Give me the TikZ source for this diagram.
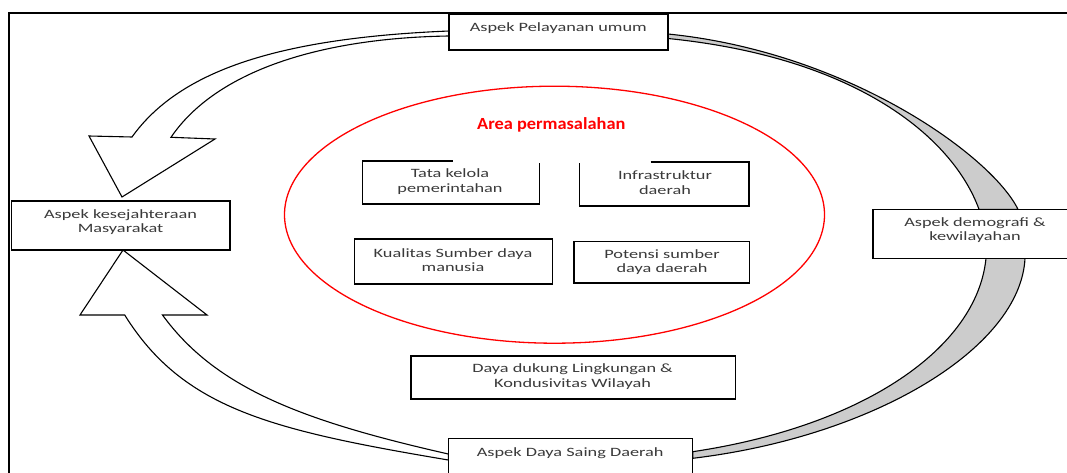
\documentclass[tikz,border=0pt]{standalone}
\usepackage{fontspec}
\usetikzlibrary{shapes.geometric,calc}
\newfontfamily\boxfont[FakeStretch=1.44]{Carlito}
\newfontfamily\headfont[FakeStretch=1.08]{Carlito}
\definecolor{txtgray}{HTML}{3A3A3A}
\definecolor{bandgray}{HTML}{CCCCCC}
\begin{document}
\begin{tikzpicture}[x=1pt,y=-1pt,
  box/.style={draw=black, line width=1.4pt, fill=white, inner sep=0pt, outer sep=0pt},
  boxline/.style={draw=black, line width=1.4pt, line join=miter},
  lbl/.style={font=\boxfont\fontsize{12.7}{14.3}\selectfont, text=txtgray, align=center, inner sep=0pt},
  band/.style={fill=bandgray, draw=black, line width=1.1pt},
  blockarrow/.style={fill=white, draw=black, line width=1.1pt, line join=miter}]
\useasboundingbox (0,0) rectangle (1067,473);
\clip (0,0) rectangle (1067,473);
\fill[white] (0,0) rectangle (1067,473);
% frame
\draw[line width=2pt] (1070,12.7) -- (9.3,12.7) -- (9.3,480);
% boxes (nodes)
\node[box, minimum width=219pt, minimum height=35.7pt] (pel) at (558.5,32.15) {};
\node[box, minimum width=218.6pt, minimum height=49pt] (kes) at (120.7,225.5) {};
\node[box, minimum width=244.4pt, minimum height=50pt] (saing) at (570.5,463.7) {};
\node[box, minimum width=217pt, minimum height=49pt] (demo) at (981.5,233.8) {};
% right grey bands
\draw[band] (pel.east |- 0,34) .. controls (847,52) and (991,155) .. (demo.north -| 1018,0)
  -- (demo.north -| 979,0) .. controls (952.75,137.5) and (857,57.5) .. (pel.east |- 0,38.5) -- cycle;
\draw[band] (demo.south -| 1025,0) .. controls (1020.5,348.3) and (873.3,436.7) .. (saing.east |- 0,458.3)
  -- (saing.east |- 0,451.7) .. controls (863.3,426.2) and (977,348.3) .. (demo.south -| 986,0) -- cycle;
% left block arrows
\draw[blockarrow] (pel.west |- 0,31) .. controls (280,38) and (180,70) .. (132,137) -- (89,136) -- (122,197)
  -- (215,139) -- (171,137.3) .. controls (216,71) and (320,38) .. (pel.west |- 0,36) -- cycle;
\draw[blockarrow] (saing.west |- 0,460) .. controls (270,430) and (183,408.5) .. (124.7,315) -- (80,315)
  -- (kes.south -| 123,0) -- (207,315) -- (162.5,315) .. controls (215.6,387.9) and (301.5,420.7) .. (saing.west |- 0,454) -- cycle;
% redraw boxes on top
\node[box, minimum width=219pt, minimum height=35.7pt] (pelB) at (pel) {};
\node[box, minimum width=218.6pt, minimum height=49pt] (kesB) at (kes) {};
\node[box, minimum width=244.4pt, minimum height=50pt] (saingB) at (saing) {};
\node[box, minimum width=217pt, minimum height=49pt] (demoB) at (demo) {};
% red ellipse
\node[draw=red, line width=1.3pt, ellipse, minimum width=540pt, minimum height=257pt, inner sep=0pt] (area) at (554.5,214.7) {};
% inner boxes
\node[box, draw=none, minimum width=177pt, minimum height=43pt] (tata) at (451.1,182.5) {};
\draw[boxline] ([xshift=90pt]tata.north west) -- (tata.north west) -- (tata.south west) -- (tata.south east) -- ([yshift=-2pt]tata.north east);
\node[box, draw=none, minimum width=169.3pt, minimum height=44pt] (infra) at (664.35,184) {};
\draw[boxline] ([xshift=71pt]infra.north west) -- (infra.north east) -- (infra.south east) -- (infra.south west) -- ([yshift=-1pt]infra.north west);
\node[box, minimum width=197.9pt, minimum height=45pt] (kual) at (453.65,261.5) {};
\node[box, minimum width=175.7pt, minimum height=41.3pt] (pot) at (661.65,262.35) {};
\node[box, minimum width=324.7pt, minimum height=43pt] (dd) at (573.15,377.5) {};
% texts
\node[font=\headfont\bfseries\fontsize{17}{20}\selectfont, text=red, inner sep=0pt] (areaT) at (551.3,125) {Area permasalahan};
\node[lbl] (pelT) at (558.3,28.5) {Aspek Pelayanan umum};
\node[lbl] (kesT) at (120.5,222) {Aspek kesejahteraan\\Masyarakat};
\node[lbl] (tataT) at (450,181.5) {Tata kelola\\pemerintahan};
\node[lbl] (infraT) at (665,182.5) {Infrastruktur\\daerah};
\node[lbl] (kualT) at (453,260) {Kualitas Sumber daya\\manusia};
\node[lbl] (potT) at (662,262) {Potensi sumber\\daya daerah};
\node[lbl] (ddT) at (572.5,376.5) {Daya dukung Lingkungan \&\\Kondusivitas Wilayah};
\node[lbl] (saingT) at (570.2,453) {Aspek Daya Saing Daerah};
\node[lbl] (demoT) at (975,230.2) {Aspek demografi \&\\kewilayahan};
\end{tikzpicture}
\end{document}
